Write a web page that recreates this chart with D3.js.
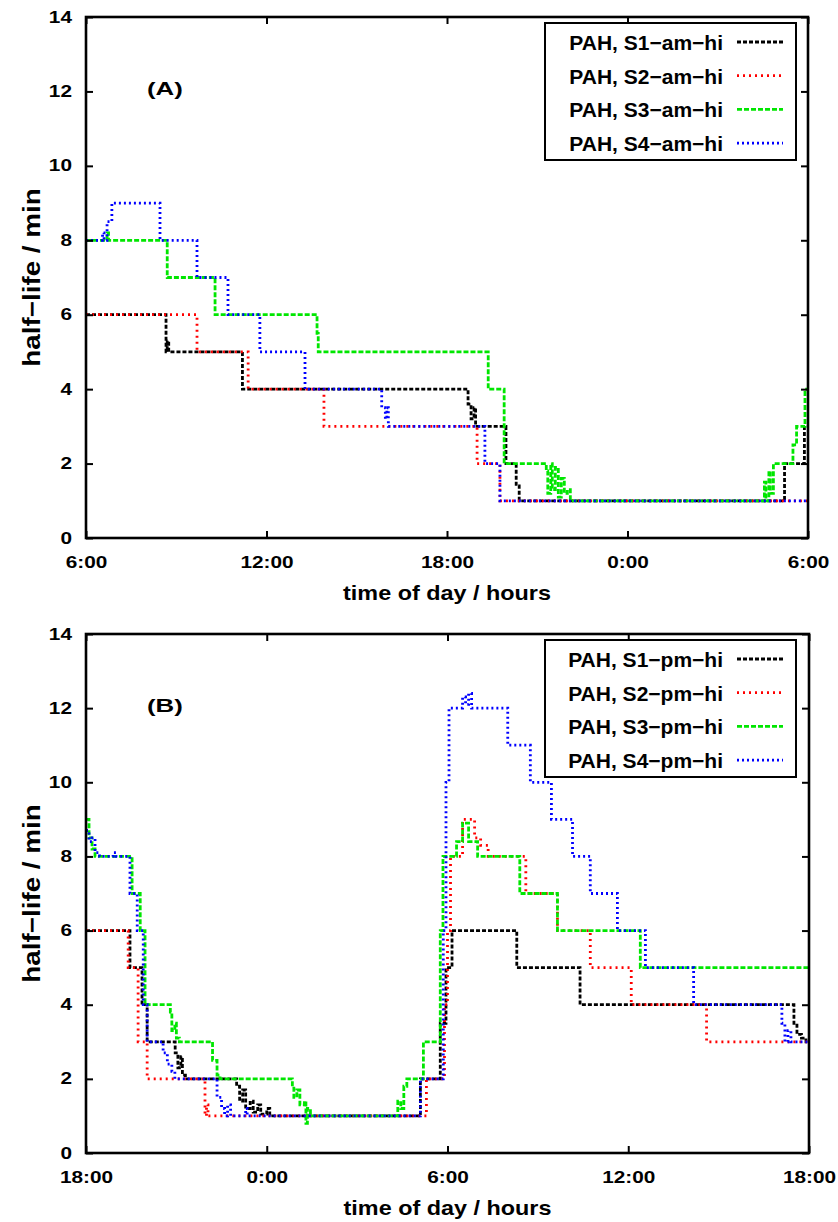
<!DOCTYPE html>
<html>
<head>
<meta charset="utf-8">
<script src="https://cdn.jsdelivr.net/npm/d3@7"></script>
<style>
  body { margin: 0; background: #fff; }
  text { font-family: "Liberation Sans", Arial, sans-serif; font-weight: bold; fill: #000; }
</style>
</head>
<body>
<script>
// hours since start of panel, half-life in min
var yTicks = [0, 2, 4, 6, 8, 10, 12, 14],
  timeTicksA = ["6:00", "12:00", "18:00", "0:00", "6:00"],
  timeTicksB = ["18:00", "0:00", "6:00", "12:00", "18:00"],
  namesA = ["PAH, S1\u2212am\u2212hi", "PAH, S2\u2212am\u2212hi", "PAH, S3\u2212am\u2212hi", "PAH, S4\u2212am\u2212hi"],
  namesB = ["PAH, S1\u2212pm\u2212hi", "PAH, S2\u2212pm\u2212hi", "PAH, S3\u2212pm\u2212hi", "PAH, S4\u2212pm\u2212hi"];

var s1am = [[0,6],[2.66,5],[2.7,5.3],[2.75,5],[5.2,4],[12.7,3.6],[12.8,3.2],[12.9,3.5],[12.95,3],[13.96,2],[14.3,1.4],[14.4,1],[23.22,2],[23.88,3],[24,3]];
var s2am = [[0,6],[3.69,5],[5.39,4],[7.91,3],[13.0,2],[13.76,1],[24,1]];
var s3am = [[0,8],[0.7,8.2],[0.75,8],[2.7,7],[4.29,6],[7.68,5.5],[7.72,5],[13.37,4],[13.9,2],[15.3,1.8],[15.35,1.2],[15.45,2],[15.5,1.3],[15.6,1.9],[15.7,1.1],[15.8,1.6],[15.9,1.2],[16.0,1.3],[16.1,1],[22.55,1.5],[22.6,1],[22.7,1.8],[22.75,1.2],[22.85,2],[23.5,2.5],[23.62,3],[23.9,4],[24,4]];
var s4am = [[0,8],[0.55,8.2],[0.6,8],[0.7,8.5],[0.86,9],[2.46,8],[3.69,7],[4.72,6],[5.78,5],[7.28,4],[9.83,3.5],[9.95,3.2],[10.0,3.5],[10.05,3],[13.26,2],[13.76,1],[24,1]];

var s1pm = [[0,6],[1.46,5],[1.86,4],[2.03,3],[2.96,2.7],[3.05,2.3],[3.15,2.6],[3.2,2.1],[3.3,2],[5.0,1.8],[5.1,1.4],[5.2,1.7],[5.3,1.2],[5.45,1.4],[5.55,1.1],[5.7,1.3],[5.8,1.05],[6.0,1.2],[6.1,1],[11.1,2],[11.76,3.5],[11.95,5],[12.15,6],[14.3,5],[16.4,4],[23.5,3.5],[23.6,3.2],[23.75,3.1],[23.9,3],[24,3]];
var s2pm = [[0,6],[1.4,5],[1.73,3],[2.03,2],[3.95,1],[4.0,1.3],[4.05,1],[11.3,2],[11.9,4],[12.0,6],[12.1,8],[12.5,9],[12.9,8.5],[13.1,8.3],[13.35,8],[14.6,7],[15.65,6],[16.74,5],[18.1,4],[20.6,3],[24,3]];
var s3pm = [[0,9],[0.1,8.5],[0.2,8.2],[0.3,8],[1.53,7],[1.8,6],[1.96,4],[2.8,3.8],[2.85,3.3],[2.95,3.5],[3.0,3.1],[3.1,3],[4.2,2.5],[4.35,2.1],[4.45,2],[6.85,1.8],[6.9,1.5],[7.0,1.7],[7.1,1.3],[7.25,1.4],[7.3,0.8],[7.35,1.2],[7.45,1],[10.35,1.4],[10.45,1.2],[10.55,1.8],[10.65,2],[11.2,3],[11.76,6],[11.85,8],[12.3,8.4],[12.5,8.9],[12.7,8.4],[13.0,8],[14.4,7],[15.65,6],[18.4,5],[24,5]];
var s4pm = [[0,8.7],[0.1,8.4],[0.2,8.5],[0.3,8.1],[0.45,8],[0.9,8.1],[1.0,8],[1.46,7],[1.7,6],[1.9,4],[2.03,3],[2.56,2.7],[2.7,2.4],[2.85,2.2],[2.95,2],[4.35,1.5],[4.5,1.2],[4.6,1],[4.7,1.3],[4.8,1],[5.3,1.2],[5.35,1],[11.1,2],[11.86,6],[11.95,10],[12.05,12],[12.5,12.3],[12.6,12.1],[12.7,12.4],[12.8,12],[14.0,11],[14.75,10],[15.45,9],[16.15,8],[16.74,7],[17.64,6],[18.57,5],[20.17,4],[23.1,3.5],[23.2,3],[23.3,3.3],[23.4,3],[24,3]];

var styles = [
  {color: "#000000", dash: "4,2"},
  {color: "#ff0000", dash: "2,4"},
  {color: "#00e600", dash: "5,2"},
  {color: "#0000ff", dash: "2,3"}
];

var width = 838, height = 1222,
  sx = 1.3, // text in the original is drawn wider than it is tall
  svg = d3.select("body").append("svg")
    .attr("width", width)
    .attr("height", height);

drawPanel({top: 17, bottom: 538, left: 86, right: 808, label: "(A)", ticks: timeTicksA,
  names: namesA, series: [s1am, s2am, s3am, s4am], legendTop: 23});
drawPanel({top: 634, bottom: 1153, left: 86, right: 809, label: "(B)", ticks: timeTicksB,
  names: namesB, series: [s1pm, s2pm, s3pm, s4pm], legendTop: 640});

function drawPanel(p) {
  var x = d3.scaleLinear().domain([0, 24]).range([p.left, p.right]),
    y = d3.scaleLinear().domain([0, 14]).range([p.bottom, p.top]),
    g = svg.append("g");

  var clipId = "clip" + p.top;
  g.append("clipPath").attr("id", clipId).append("rect")
    .attr("x", p.left).attr("y", p.top)
    .attr("width", p.right - p.left).attr("height", p.bottom - p.top);

  var line = d3.line()
    .x(function(d) { return x(d[0]); })
    .y(function(d) { return y(d[1]); })
    .curve(d3.curveStepAfter);

  p.series.forEach(function(s, i) {
    g.append("path")
      .attr("d", line(s))
      .attr("clip-path", "url(#" + clipId + ")")
      .attr("fill", "none")
      .attr("stroke", styles[i].color)
      .attr("stroke-width", 2.8)
      .attr("stroke-dasharray", styles[i].dash);
  });

  // axes: ticks pointing inward on all sides
  var tickVals = [0, 6, 12, 18, 24];
  var bx = g.append("g").attr("transform", "translate(0," + p.bottom + ")")
    .call(d3.axisBottom(x).tickValues(tickVals).tickSizeInner(-7).tickSizeOuter(0)
      .tickPadding(19).tickFormat(function(d, i) { return p.ticks[i]; }));
  g.append("g").attr("transform", "translate(0," + p.top + ")")
    .call(d3.axisTop(x).tickValues(tickVals).tickSizeInner(-7).tickSizeOuter(0).tickFormat(""));
  var ly = g.append("g").attr("transform", "translate(" + p.left + ",0)")
    .call(d3.axisLeft(y).tickValues(yTicks).tickSizeInner(-7).tickSizeOuter(0).tickPadding(14));
  g.append("g").attr("transform", "translate(" + p.right + ",0)")
    .call(d3.axisRight(y).tickValues(yTicks).tickSizeInner(-7).tickSizeOuter(0).tickFormat(""));

  g.selectAll(".domain").remove();
  g.selectAll(".tick line").attr("stroke", "#000").attr("stroke-width", 2);
  g.selectAll(".tick text").attr("fill", "#000").style("font-size", "16px")
    .style("font-family", "'Liberation Sans', Arial, sans-serif").style("font-weight", "bold")
    .attr("transform", "scale(" + sx + ",1)");
  ly.selectAll(".tick text").attr("x", -14 / sx);

  g.append("rect")
    .attr("x", p.left).attr("y", p.top)
    .attr("width", p.right - p.left).attr("height", p.bottom - p.top)
    .attr("fill", "none").attr("stroke", "#000").attr("stroke-width", 2.6);

  g.append("text").attr("transform", "translate(147," + (p.top + 78) + ") scale(1.36,1)")
    .style("font-size", "19px").text(p.label);

  g.append("text")
    .attr("transform", "translate(40," + ((p.top + p.bottom) / 2) + ") rotate(-90) scale(1.16,1)")
    .attr("text-anchor", "middle").style("font-size", "24px").text("half\u2212life / min");
  g.append("text")
    .attr("transform", "translate(" + ((p.left + p.right) / 2) + "," + (p.bottom + 62) + ") scale(1.17,1)")
    .attr("text-anchor", "middle").style("font-size", "20px").text("time of day / hours");

  // legend
  var lg = g.append("g");
  lg.append("rect").attr("x", 545).attr("y", p.legendTop)
    .attr("width", 251).attr("height", 137)
    .attr("fill", "#fff").attr("stroke", "#000").attr("stroke-width", 2);
  p.names.forEach(function(n, i) {
    var cy = p.legendTop + 19 + i * 33.7;
    lg.append("text").attr("x", 723).attr("y", cy + 8)
      .attr("text-anchor", "end").style("font-size", "21px").text(n);
    lg.append("line").attr("x1", 737).attr("x2", 783).attr("y1", cy).attr("y2", cy)
      .attr("stroke", styles[i].color).attr("stroke-width", 2.8)
      .attr("stroke-dasharray", styles[i].dash);
  });
}
</script>
</body>
</html>
